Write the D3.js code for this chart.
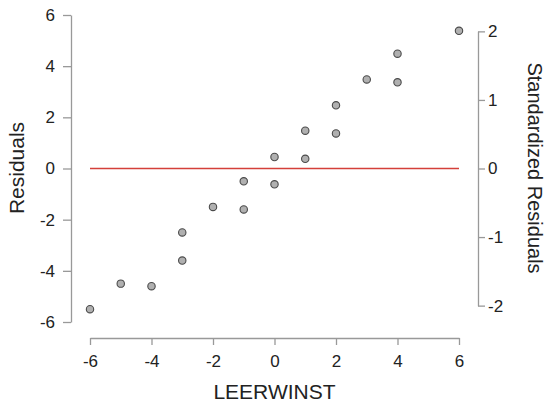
<!DOCTYPE html>
<html>
<head>
<meta charset="utf-8">
<script src="https://cdn.jsdelivr.net/npm/d3@7"></script>
<style>
  body { margin: 0; background: #fff; }
  svg text { font-family: "Liberation Sans", Arial, Helvetica, sans-serif; fill: #222; }
  .axis path, .axis line { stroke: #999; stroke-width: 1.3; }
</style>
</head>
<body>
<div id="chart"></div>
<script>
// predictor values (LEERWINST) and residuals
const leerwinst = [-6, -5, -4, -3, -3, -2, -1, -1, 0, 0, 1, 1, 2, 2, 3, 4, 4, 6];
const residuals = [-5.5, -4.5, -4.6, -3.6, -2.5, -1.5, -0.5, -1.6, 0.45, -0.62, 1.48, 0.38, 2.47, 1.37, 3.48, 4.49, 3.37, 5.38];
const xTicks = [-6, -4, -2, 0, 2, 4, 6];
const yTicks = [-6, -4, -2, 0, 2, 4, 6];
const stdTicks = [-2, -1, 0, 1, 2];
const residualSd = 2.68;

const width = 548, height = 405;
const fmt = d => String(d);   // plain hyphen minus, no decimals

const x = d3.scaleLinear().domain([-6, 6]).range([90, 459]);
const y = d3.scaleLinear().domain([-6, 6]).range([322, 15]);
const yStd = d3.scaleLinear().domain([-2, 2]).range([y(-2 * residualSd), y(2 * residualSd)]);

const svg = d3.select("#chart").append("svg")
    .attr("width", width)
    .attr("height", height);

// left axis
const gLeft = svg.append("g")
    .attr("class", "axis")
    .attr("transform", "translate(71,0)")
    .call(d3.axisLeft(y).tickValues(yTicks).tickFormat(fmt).tickSize(8).tickSizeOuter(0).tickPadding(8));

// bottom axis
const gBottom = svg.append("g")
    .attr("class", "axis")
    .attr("transform", "translate(0,338)")
    .call(d3.axisBottom(x).tickValues(xTicks).tickFormat(fmt).tickSize(7).tickSizeOuter(0).tickPadding(10));

// right axis (standardized)
const gRight = svg.append("g")
    .attr("class", "axis")
    .attr("transform", "translate(478,0)")
    .call(d3.axisRight(yStd).tickValues(stdTicks).tickFormat(fmt).tickSize(7).tickSizeOuter(0).tickPadding(3));

[gLeft, gBottom, gRight].forEach(g => {
    g.selectAll("text").style("font-size", "17px").attr("fill", "#222");
    g.select(".domain").attr("stroke", "#999");
});

// zero line
svg.append("line")
    .attr("x1", x(-6))
    .attr("x2", x(6))
    .attr("y1", y(0))
    .attr("y2", y(0))
    .attr("stroke", "#d4403a")
    .attr("stroke-width", 1.5);

// points
svg.append("g")
    .selectAll("circle")
    .data(leerwinst.map((d, i) => ({ x: d, r: residuals[i] })))
    .enter().append("circle")
    .attr("cx", d => x(d.x))
    .attr("cy", d => y(d.r))
    .attr("r", 3.7)
    .attr("fill", "#b0b0b0")
    .attr("stroke", "#4a4a4a")
    .attr("stroke-width", 1.1);

// titles
svg.append("text")
    .attr("x", (x(-6) + x(6)) / 2)
    .attr("y", 399)
    .attr("text-anchor", "middle")
    .style("font-size", "21px")
    .text("LEERWINST");

svg.append("text")
    .attr("transform", "translate(24,168) rotate(-90)")
    .attr("text-anchor", "middle")
    .style("font-size", "21px")
    .text("Residuals");

svg.append("text")
    .attr("transform", "translate(528,168) rotate(90)")
    .attr("text-anchor", "middle")
    .style("font-size", "20px")
    .text("Standardized Residuals");
</script>
</body>
</html>
